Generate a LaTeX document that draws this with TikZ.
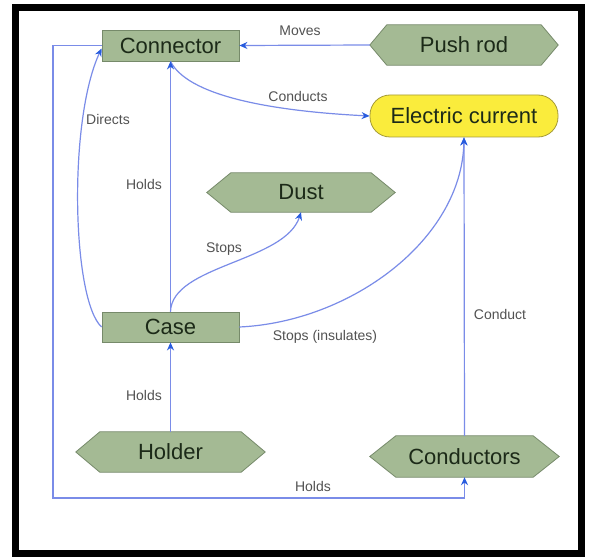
\documentclass[tikz,border=0pt]{standalone}
\usepackage{fontspec}
\setmainfont{Liberation Sans}
\usetikzlibrary{arrows.meta,backgrounds}
\definecolor{gfill}{RGB}{164,186,148}
\definecolor{gborder}{RGB}{118,138,106}
\definecolor{gtext}{RGB}{28,42,24}
\definecolor{yfill}{RGB}{250,236,60}
\definecolor{yborder}{RGB}{165,155,55}
\definecolor{lineblue}{RGB}{122,140,232}
\definecolor{tipblue}{RGB}{40,92,222}
\definecolor{lblgray}{RGB}{82,82,82}
\tikzset{
  boxnode/.style={rectangle, fill=gfill, draw=gborder, line width=0.8pt, text=gtext,
    font=\fontsize{22}{26}\selectfont, inner sep=0pt},
  hexnode/.style={rectangle, text=gtext, font=\fontsize{22}{26}\selectfont, inner sep=0pt},
  pillnode/.style={rectangle, rounded corners=20pt, fill=yfill, draw=yborder, line width=0.8pt,
    text=gtext, font=\fontsize{22}{26}\selectfont, inner sep=0pt},
  lbl/.style={text=lblgray, font=\fontsize{14}{17}\selectfont, inner sep=0pt},
  arr/.style={draw=lineblue, line width=1.2pt,
    -{Stealth[length=8pt,width=7pt,color=tipblue]}},
}
\newcommand{\hexbg}[2]{\path[fill=gfill, draw=gborder, line width=0.8pt]
  (#1.west) -- ([xshift=#2]#1.north west) -- ([xshift=-#2]#1.north east) -- (#1.east)
  -- ([xshift=-#2]#1.south east) -- ([xshift=#2]#1.south west) -- cycle;}
\begin{document}
\begin{tikzpicture}[x=1pt,y=-1pt]
\useasboundingbox (0,0) rectangle (589,559);

% nodes
\node[boxnode, minimum width=137pt, minimum height=31pt] (con) at (170.5,45.5) {Connector};
\node[hexnode, minimum width=188pt, minimum height=40pt] (push) at (464,45) {Push rod};
\node[pillnode, minimum width=188pt, minimum height=42pt] (elec) at (464,116) {Electric current};
\node[hexnode, minimum width=188pt, minimum height=39pt] (dust) at (301,192.5) {Dust};
\node[boxnode, minimum width=137pt, minimum height=30pt] (case) at (170.5,327) {Case};
\node[hexnode, minimum width=189pt, minimum height=40pt] (holder) at (170.5,452) {Holder};
\node[hexnode, minimum width=189pt, minimum height=41pt] (cond) at (464.5,456.5) {Conductors};

\begin{scope}[on background layer]
\fill[white] (0,0) rectangle (589,559);
\hexbg{push}{17pt}
\hexbg{dust}{24pt}
\hexbg{holder}{24pt}
\hexbg{cond}{26pt}
\end{scope}

\draw[line width=7pt] (15.5,7.5) rectangle (581.5,553.5);

\coordinate (lc) at (53,498);

% connectors
\draw[arr] (push.west) -- (con.east);
\draw[arr] (con.south) .. controls (190,100) and (290,112) .. (elec.west);
\draw[arr] (case.west) .. controls (72,300) and (68,120) .. ([yshift=-3pt]con.west);
\draw[arr] (case.north) -- (con.south);
\draw[arr] (case.north) .. controls (172,265) and (285,262) .. (dust.south);
\draw[arr] (case.east) .. controls (350,322) and (462,240) .. (elec.south);
\draw[arr] (holder.north) -- (case.south);
\draw[arr] (cond.north) -- (elec.south);
\draw[arr] (con.west) -| (lc) -| (cond.south);

% labels
\node[lbl] (l1) at (300,31) {Moves};
\node[lbl] (l2) at (298,96) {Conducts};
\node[lbl] (l3) at (108,119) {Directs};
\node[lbl] (l4) at (144,184) {Holds};
\node[lbl] (l5) at (224,249) {Stops};
\node[lbl] (l6) at (325,337) {Stops (insulates)};
\node[lbl] (l7) at (500,314) {Conduct};
\node[lbl] (l8) at (144,395) {Holds};
\node[lbl] (l9) at (313,486) {Holds};
\end{tikzpicture}
\end{document}
